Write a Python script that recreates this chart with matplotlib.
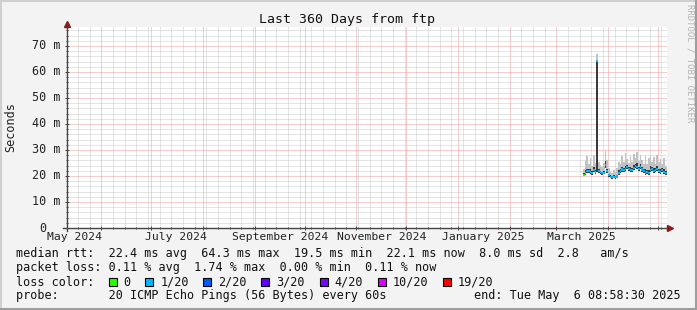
import datetime as dt

import matplotlib
matplotlib.use("Agg")
import matplotlib.pyplot as plt
import matplotlib.dates as mdates
from matplotlib.lines import Line2D
from matplotlib.patches import Rectangle
from matplotlib.ticker import MultipleLocator
from matplotlib.transforms import blended_transform_factory
import numpy as np

W, H = 697, 310
end = dt.datetime(2025, 5, 6, 8, 58, 30)
start = end - dt.timedelta(days=360)
first_day = dt.datetime(2025, 3, 17)

# daily median rtt (ms) and smoke bands
median = [20.5, 21.0, 21.8, 22.0, 21.5, 21.2, 22.3, 21.6, 64.3, 22.0,
          21.4, 21.0, 21.3, 24.2, 22.0, 20.3, 19.7, 19.5, 19.6, 19.5,
          19.8, 21.2, 21.8, 22.5, 22.3, 22.8, 23.4, 22.6, 22.2, 22.4,
          23.0, 23.8, 23.5, 22.8, 23.6, 22.5, 22.0, 21.2, 21.6, 21.0,
          22.3, 22.6, 21.8, 22.4, 22.7, 22.0, 21.5, 22.3, 21.6, 21.0]
smoke_lo = [19.9, 20.3, 21.0, 21.2, 20.8, 20.5, 21.5, 20.9, 21.6, 21.3,
            20.7, 20.3, 20.6, 23.2, 21.2, 19.7, 19.1, 19.0, 19.1, 19.0,
            19.3, 20.5, 21.0, 21.7, 21.5, 22.0, 22.6, 21.8, 21.4, 21.6,
            22.2, 22.9, 22.6, 22.0, 22.7, 21.7, 21.3, 20.5, 20.9, 20.3,
            21.5, 21.8, 21.1, 21.6, 21.9, 21.3, 20.8, 21.5, 20.9, 20.4]
smoke_mid = [21.0, 22.2, 22.8, 22.6, 22.6, 21.9, 23.4, 22.3, 64.3, 22.8,
             22.0, 21.6, 22.1, 25.6, 22.8, 20.8, 20.2, 20.0, 20.3, 20.1,
             20.5, 22.2, 22.5, 23.6, 23.0, 24.0, 24.2, 23.3, 23.4, 23.2,
             24.1, 24.6, 25.0, 23.5, 24.6, 23.3, 22.7, 22.6, 22.4, 22.3,
             23.8, 23.4, 23.0, 23.0, 24.0, 22.8, 22.6, 22.9, 22.8, 21.8]
smoke_hi = [22.5, 25.8, 27.5, 24.5, 26.8, 23.8, 28.2, 25.0, 67.0, 25.5,
            24.2, 23.5, 25.0, 29.5, 26.0, 23.0, 21.5, 21.0, 22.2, 21.5,
            23.0, 25.5, 24.5, 27.5, 25.2, 28.8, 26.5, 25.0, 27.8, 25.5,
            28.5, 27.0, 29.2, 25.8, 28.0, 26.2, 24.8, 27.5, 24.5, 26.8,
            28.2, 25.5, 27.2, 24.8, 28.0, 25.2, 26.5, 24.5, 27.0, 24.0]
# loss class per day: index into loss_labels / loss_colors
loss = [0, 0, 1, 1, 1, 1, 1, 1, 1, 1, 1, 1, 1, 1, 1, 1, 1, 1, 0, 1,
        0, 1, 1, 1, 0, 1, 0, 1, 1, 1, 1, 1, 1, 0, 1, 1, 1, 1, 0, 1,
        1, 1, 0, 1, 0, 1, 1, 1, 1, 1]

loss_labels = ["0", "1/20", "2/20", "3/20", "4/20", "10/20", "19/20"]
loss_colors = ["#26ff00", "#00b8ff", "#0059ff", "#5e00ff", "#7e00ff", "#dd00ff", "#ff0000"]

y_ticks = [0, 10, 20, 30, 40, 50, 60, 70]
x_label_dates = [dt.datetime(2024, 5, 16), dt.datetime(2024, 7, 16), dt.datetime(2024, 9, 16),
                 dt.datetime(2024, 11, 16), dt.datetime(2025, 1, 16), dt.datetime(2025, 3, 16)]

legend_rows = [
    "median rtt:  22.4 ms avg  64.3 ms max  19.5 ms min  22.1 ms now  8.0 ms sd  2.8   am/s",
    "packet loss: 0.11 % avg  1.74 % max  0.00 % min  0.11 % now",
    "loss color:",
    "probe:       20 ICMP Echo Pings (56 Bytes) every 60s",
]
end_text = "end: Tue May  6 08:58:30 2025"

plt.rcParams["font.family"] = ["DejaVu Sans Mono"]
fs = 8.5
cw = 7.13  # px per character

fig = plt.figure(figsize=(W / 100, H / 100), dpi=100, facecolor="#f3f3f3")
ax = fig.add_axes([67 / W, 1 - 228 / H, 600 / W, 201 / H])
ax.set_facecolor("white")
for s in ax.spines.values():
    s.set_visible(False)

ax.set_xlim(start, end)
ax.set_ylim(0, 77.3)

ax.xaxis.set_major_locator(mdates.MonthLocator())
ax.xaxis.set_minor_locator(mdates.WeekdayLocator(byweekday=mdates.SA))
ax.yaxis.set_major_locator(MultipleLocator(10))
ax.yaxis.set_minor_locator(MultipleLocator(2))
ax.tick_params(labelbottom=False, labelleft=False)
ax.tick_params(which="major", length=3, width=0.7, color="#444444", direction="inout")
ax.tick_params(which="minor", length=2, width=0.7, color="#444444", direction="inout")

ax.grid(which="minor", color="#cacaca", linestyle=(0, (1, 1)), linewidth=0.72, zorder=0)
ax.grid(which="major", color="#ee9c9c", linestyle=(0, (1, 1)), linewidth=0.72, zorder=0)
ax.set_axisbelow(True)

days = [first_day + dt.timedelta(days=i) for i in range(len(median))]
xs = days + [end]
lo = np.array(smoke_lo + smoke_lo[-1:])
mid = np.array(smoke_mid + smoke_mid[-1:])
hi = np.array(smoke_hi + smoke_hi[-1:])
med = np.array(median + median[-1:])
cls = np.array(loss + loss[-1:])

ax.fill_between(xs, mid, hi, step="post", color="#c2c2c2", linewidth=0, zorder=2)
ax.fill_between(xs, lo, mid, step="post", color="#3a3a3a", linewidth=0, zorder=3)
for k, c in enumerate(loss_colors):
    mask = cls == k
    if not mask.any():
        continue
    # a run of days with class k: include the following edge for step fill
    where = mask | np.r_[False, mask[:-1]]
    ax.fill_between(xs, med - 0.4, med + 0.4, where=where, step="post",
                    color=c, linewidth=0, zorder=4, interpolate=False)

# axes with arrows
ax.plot([0, 0], [-0.015, 1.0], transform=ax.transAxes, color="#444444", lw=1, clip_on=False, zorder=5)
ax.plot([-0.007, 1.0], [0, 0], transform=ax.transAxes, color="#444444", lw=1, clip_on=False, zorder=5)
ax.plot([0], [1.0 + 3 / 201], transform=ax.transAxes, marker="^", ms=5, color="#861c1c", clip_on=False, zorder=6)
ax.plot([1.0 + 3 / 600], [0], transform=ax.transAxes, marker=">", ms=5, color="#861c1c", clip_on=False, zorder=6)

# y labels
ytr = blended_transform_factory(fig.transFigure, ax.transData)
for v in y_ticks:
    label = "0" if v == 0 else f"{v} m"
    xr = 46.5 if v == 0 else 60
    ax.text(xr / W, v, label, transform=ytr, ha="right", va="center", fontsize=fs, color="#222222")

# x labels
xtr = blended_transform_factory(ax.transData, fig.transFigure)
for d in x_label_dates:
    ax.text(d, 1 - 237.5 / H, d.strftime("%B %Y"), transform=xtr, ha="center", va="center",
            fontsize=fs - 0.3, color="#222222")

fig.text(347 / W, 1 - 19 / H, "Last 360 Days from ftp", ha="center", va="center", fontsize=9.5, color="#111111")
fig.text(11 / W, 1 - 127 / H, "Seconds", rotation=90, ha="center", va="center", fontsize=fs, color="#222222")
fig.text(690 / W, 1 - 4 / H, "RRDTOOL / TOBI OETIKER", rotation=270, ha="center", va="top",
         fontsize=6.5, color="#b4b4b4")

row_y = [254, 268, 282, 296]
for text, y in zip(legend_rows, row_y):
    fig.text(16 / W, 1 - y / H, text, ha="left", va="center", fontsize=fs, color="#111111")
fig.text(681 / W, 1 - row_y[3] / H, end_text, ha="right", va="center", fontsize=fs, color="#111111")

x = 108.5
for label, c in zip(loss_labels, loss_colors):
    fig.add_artist(Rectangle((x / W, 1 - (row_y[2] + 4) / H), 8 / W, 8 / H, transform=fig.transFigure,
                             facecolor=c, edgecolor="black", linewidth=0.8))
    fig.text((x + 15) / W, 1 - row_y[2] / H, label, ha="left", va="center", fontsize=fs, color="#111111")
    x += (len(label) + 4.15) * cw

# 3d frame of the image
fig.add_artist(Line2D([0, 1], [1 - 1 / H, 1 - 1 / H], transform=fig.transFigure, color="#d0d0d0", lw=1.5))
fig.add_artist(Line2D([1 / W, 1 / W], [0, 1], transform=fig.transFigure, color="#d0d0d0", lw=1.5))
fig.add_artist(Line2D([1 - 1 / W, 1 - 1 / W], [0, 1], transform=fig.transFigure, color="#9e9e9e", lw=1.5))
fig.add_artist(Line2D([0, 1], [1 / H, 1 / H], transform=fig.transFigure, color="#9e9e9e", lw=1.5))

fig.savefig("out.png", dpi=100, facecolor=fig.get_facecolor())
